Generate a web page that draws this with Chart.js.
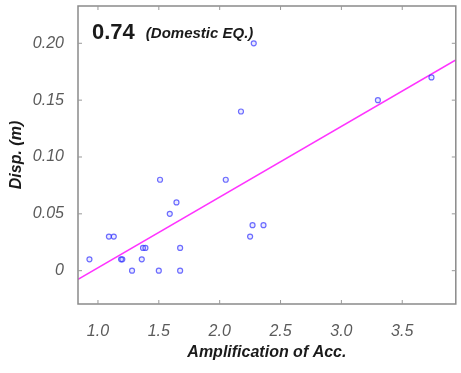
<!DOCTYPE html>
<html>
<head>
<meta charset="utf-8">
<script src="https://cdn.jsdelivr.net/npm/chart.js@4/dist/chart.umd.min.js"></script>
<style>
  html, body { margin: 0; padding: 0; background: #fff; }
  #wrap { width: 461px; height: 373px; }
</style>
</head>
<body>
<div id="wrap"><canvas id="chart" width="461" height="373"></canvas></div>
<script>
// données
const accAmp = [0.93, 1.09, 1.13, 1.19, 1.20, 1.28, 1.36, 1.37, 1.39, 1.50, 1.51, 1.59, 1.645, 1.675, 1.675, 2.05, 2.175, 2.25, 2.27, 2.28, 2.36, 3.30, 3.74];
const dispM  = [0.01, 0.03, 0.03, 0.01, 0.01, 0.00, 0.01, 0.02, 0.02, 0.00, 0.08, 0.05, 0.06, 0.02, 0.00, 0.08, 0.14, 0.03, 0.04, 0.20, 0.04, 0.15, 0.17];

// droite de régression (extrémités)
const fitX = [0.836, 3.94];
const fitY = [-0.0076, 0.1853];

const xTicks = [1.0, 1.5, 2.0, 2.5, 3.0, 3.5];
const yTicks = [0, 0.05, 0.10, 0.15, 0.20];

const corrLabel = "0.74";
const caseLabel = "(Domestic EQ.)";

const points = accAmp.map((x, i) => ({ x: x, y: dispM[i] }));
const fitLine = fitX.map((x, i) => ({ x: x, y: fitY[i] }));

// cadre + graduations vers l'intérieur
const framePlugin = {
  id: "frame",
  afterDraw(chart) {
    const { ctx, chartArea: a, scales } = chart;
    ctx.save();
    ctx.strokeStyle = "#8a8a8a";
    ctx.lineWidth = 1.5;
    ctx.strokeRect(a.left, a.top, a.right - a.left, a.bottom - a.top);
    ctx.lineWidth = 1;
    ctx.strokeStyle = "#999";
    const len = 4;
    ctx.beginPath();
    scales.x.ticks.forEach(t => {
      const px = scales.x.getPixelForValue(t.value);
      ctx.moveTo(px, a.bottom); ctx.lineTo(px, a.bottom - len);
      ctx.moveTo(px, a.top); ctx.lineTo(px, a.top + len);
    });
    scales.y.ticks.forEach(t => {
      const py = scales.y.getPixelForValue(t.value);
      ctx.moveTo(a.left, py); ctx.lineTo(a.left + len, py);
      ctx.moveTo(a.right, py); ctx.lineTo(a.right - len, py);
    });
    ctx.stroke();

    // texte d'annotation
    ctx.fillStyle = "#1a1a1a";
    ctx.textBaseline = "alphabetic";
    ctx.font = "bold 22px 'Liberation Sans', Arial, sans-serif";
    ctx.fillText(corrLabel, a.left + 14, a.top + 33);
    const w = ctx.measureText(corrLabel).width;
    ctx.font = "italic bold 15px 'Liberation Sans', Arial, sans-serif";
    ctx.fillText(caseLabel, a.left + 14 + w + 11, a.top + 32);
    ctx.restore();
  }
};

const ctx = document.getElementById("chart").getContext("2d");
new Chart(ctx, {
  type: "scatter",
  data: {
    datasets: [
      {
        label: "Données",
        data: points,
        pointStyle: "circle",
        pointRadius: 2.5,
        pointBorderWidth: 1.2,
        pointBorderColor: "rgba(50, 50, 255, 0.7)",
        pointBackgroundColor: "rgba(120, 120, 255, 0.15)"
      },
      {
        label: "Régression",
        type: "line",
        data: fitLine,
        borderColor: "#ff33ff",
        borderWidth: 1.6,
        pointRadius: 0,
        fill: false
      }
    ]
  },
  options: {
    responsive: false,
    animation: false,
    layout: { padding: { top: 6, right: 4, left: 0, bottom: 0 } },
    plugins: {
      legend: { display: false },
      tooltip: { enabled: false }
    },
    scales: {
      x: {
        type: "linear",
        min: 0.836,
        max: 3.94,
        afterBuildTicks: s => { s.ticks = xTicks.map(v => ({ value: v })); },
        afterFit: s => { s.height = 69; s.paddingLeft = 0; s.paddingRight = 0; },
        grid: { display: false },
        border: { display: false },
        ticks: {
          padding: 10,
          color: "#5a5a5a",
          font: { family: "'Liberation Sans', Arial, sans-serif", size: 16, style: "italic" },
          callback: v => Number(v).toFixed(1)
        },
        title: {
          display: true,
          text: "Amplification of Acc.",
          color: "#1a1a1a",
          padding: { top: 0, bottom: 11 },
          font: { family: "'Liberation Sans', Arial, sans-serif", size: 16, style: "italic", weight: "bold" }
        }
      },
      y: {
        type: "linear",
        min: -0.0293,
        max: 0.2328,
        afterBuildTicks: s => { s.ticks = yTicks.map(v => ({ value: v })); },
        afterFit: s => { s.width = 78; s.paddingTop = 0; s.paddingBottom = 0; },
        grid: { display: false },
        border: { display: false },
        ticks: {
          padding: 6,
          color: "#5a5a5a",
          font: { family: "'Liberation Sans', Arial, sans-serif", size: 16, style: "italic" },
          callback: v => (v === 0 ? "0" : Number(v).toFixed(2))
        },
        title: {
          display: true,
          text: "Disp. (m)",
          color: "#1a1a1a",
          padding: { top: 7, bottom: 0 },
          font: { family: "'Liberation Sans', Arial, sans-serif", size: 16, style: "italic", weight: "bold" }
        }
      }
    }
  },
  plugins: [framePlugin]
});
</script>
</body>
</html>
